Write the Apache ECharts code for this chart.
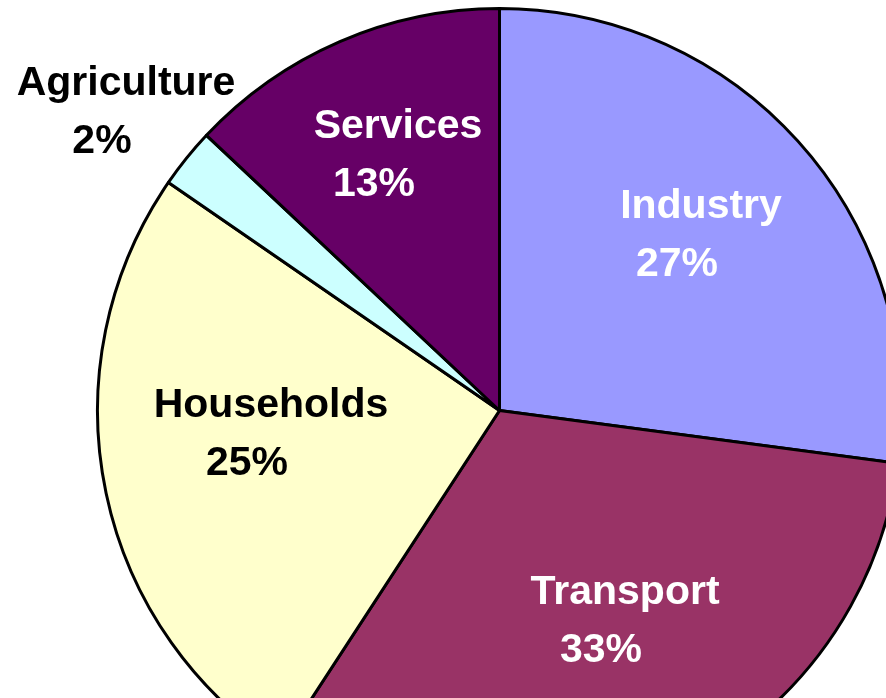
<!DOCTYPE html>
<html>
<head>
<meta charset="utf-8">
<title>Energy use by sector</title>
<script src="https://cdn.jsdelivr.net/npm/echarts@6/dist/echarts.min.js"></script>
<style>
  html, body { margin: 0; padding: 0; background: #fff; }
  #chart { width: 886px; height: 698px; }
</style>
</head>
<body>
<div id="chart"></div>
<script>
/* ---- data (clockwise from 12 o'clock) ---- */
const sectors = ["Industry", "Transport", "Households", "Agriculture", "Services"];
const shares = [27.1, 32.1, 25.4, 2.4, 13.0];
// percentages as printed on the chart
const printed = ["27%", "33%", "25%", "2%", "13%"];

/* ---- look ---- */
const fills = ["#9999FF", "#993366", "#FFFFCC", "#CCFFFF", "#660066"];
const labelInk = ["#fff", "#fff", "#000", "#000", "#fff"];
// label block centres, as Excel placed them
const labelAt = [[701, 236], [625, 622], [271, 435], [126, 113], [398, 156]];

const chart = echarts.init(document.getElementById("chart"), null, { renderer: "canvas" });

chart.setOption({
  backgroundColor: "#fff",
  animation: false,
  series: [{
    type: "pie",
    center: [499.5, 410.5],
    radius: 402,
    startAngle: 90,
    clockwise: true,
    silent: true,
    avoidLabelOverlap: false,
    itemStyle: { borderColor: "#000", borderWidth: 3 },
    labelLine: { show: false },
    label: {
      show: true,
      position: "inside",
      align: "center",
      formatter: (p) => `{n|${p.name}}\n{p|${printed[p.dataIndex]}}`,
      rich: {
        n: { fontFamily: "Liberation Sans, Arial, sans-serif", fontWeight: "bold", fontSize: 41, lineHeight: 58 },
        p: { fontFamily: "Liberation Sans, Arial, sans-serif", fontWeight: "bold", fontSize: 41, lineHeight: 58, padding: [0, 48, 0, 0] },
      },
    },
    labelLayout: (params) => {
      const [x, y] = labelAt[params.dataIndex];
      return { x, y, align: "center", verticalAlign: "middle" };
    },
    data: sectors.map((name, i) => ({
      name,
      value: shares[i],
      itemStyle: { color: fills[i] },
      label: {
        color: labelInk[i],
        rich: { n: { color: labelInk[i] }, p: { color: labelInk[i] } },
      },
    })),
  }],
});
</script>
</body>
</html>
